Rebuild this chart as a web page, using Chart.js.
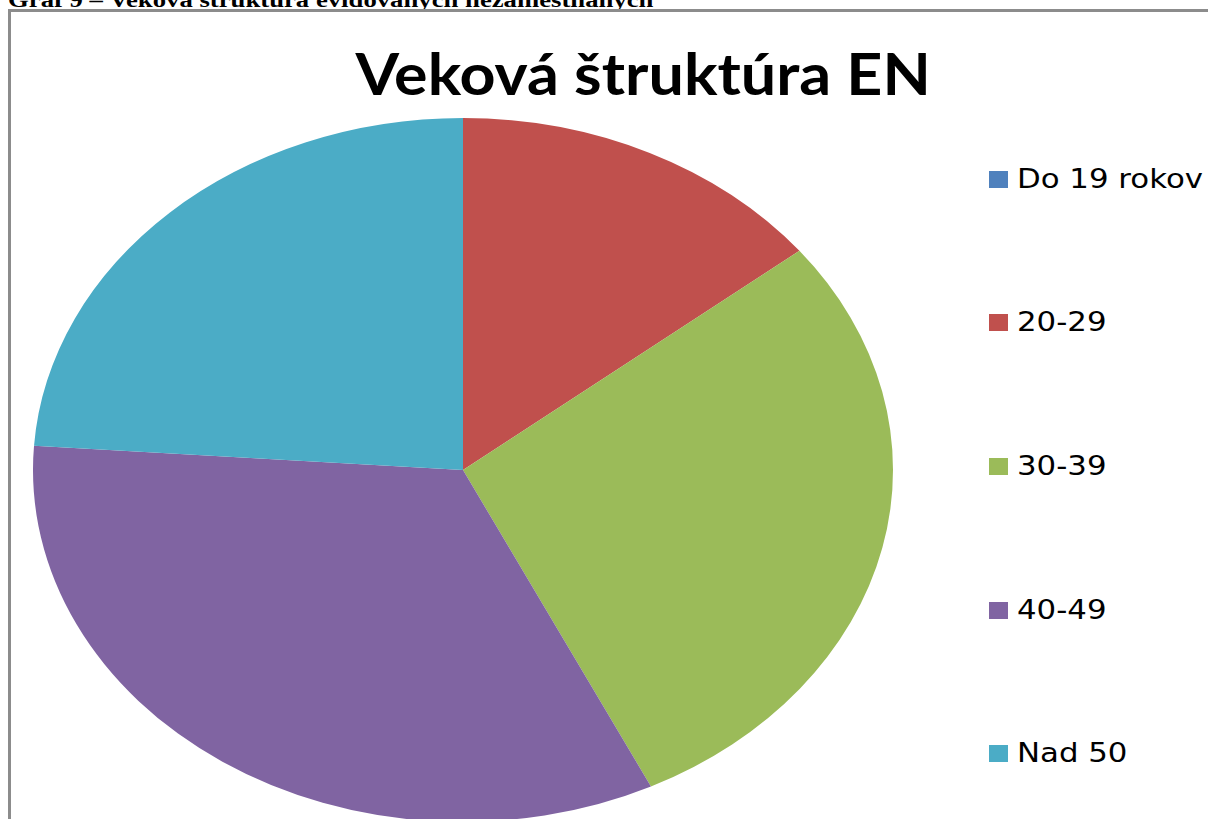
<!DOCTYPE html>
<html lang="sk">
<head>
<meta charset="utf-8">
<title>Veková štruktúra EN</title>
<script src="https://cdn.jsdelivr.net/npm/chart.js@4/dist/chart.umd.min.js"></script>
<style>
  html, body { margin: 0; padding: 0; width: 1208px; height: 819px; overflow: hidden; background: #fff; }
  #hlavicka {
    position: absolute; left: 8px; top: -10px; white-space: nowrap;
    font: bold 20px/20px "Liberation Serif", "Times New Roman", serif; color: #000;
    transform-origin: 0 0;
  }
  #ramik {
    position: absolute; left: 8px; top: 9px; width: 1300px; height: 900px;
    border: 3px solid #8c8c8c; box-sizing: border-box;
  }
  #nadpis {
    position: absolute; left: 0; width: 1286px; top: 45px; text-align: center;
  }
  #nadpis span {
    display: inline-block; white-space: nowrap;
    font: bold 57px/57px Lato, "Open Sans", sans-serif; color: #000;
    transform-origin: 50% 0;
  }
  #kolac { position: absolute; left: 33px; top: 118px; }
  .polozka { position: absolute; left: 0; top: 0; }
  .polozka .stvorec { position: absolute; width: 19px; height: 17px; }
  .polozka .text {
    position: absolute; white-space: nowrap;
    font: 26px/26px "DejaVu Sans", Verdana, sans-serif; color: #000;
    transform-origin: 0 0;
  }
</style>
</head>
<body>
<div id="hlavicka">Graf 9 – Veková štruktúra evidovaných nezamestnaných</div>
<div id="ramik"></div>
<div id="nadpis"><span>Veková štruktúra EN</span></div>
<canvas id="kolac" width="860" height="704"></canvas>
<div id="legenda"></div>

<script>
// vekove skupiny a podiel v %
const kategorie = ["Do 19 rokov", "20-29", "30-39", "40-49", "Nad 50"];
const podiel = [0, 14.3, 28.5, 33.3, 23.9];
const farby = ["#4f81bd", "#c0504d", "#9bbb59", "#8064a2", "#4bacc6"];

// roztiahnutie kolaca do elipsy (ako v povodnom obrazku)
const pomerX = 430 / 352;

function prisposobSirku(el, sirka) {
    const w = el.offsetWidth;
    el.style.transform = `scaleX(${sirka / w})`;
    return sirka / w;
}

const elipsa = {
    id: "elipsa",
    beforeDatasetsDraw(chart) {
        const a = chart.chartArea;
        const cx = (a.left + a.right) / 2;
        const cy = (a.top + a.bottom) / 2;
        const ctx = chart.ctx;
        ctx.save();
        ctx.translate(cx, cy);
        ctx.scale(pomerX, 1);
        ctx.translate(-cx, -cy);
    },
    afterDatasetsDraw(chart) {
        chart.ctx.restore();
    }
};

const kolacChart = new Chart(document.getElementById("kolac"), {
    type: "pie",
    data: {
        labels: kategorie,
        datasets: [{
            data: podiel,
            backgroundColor: farby,
            borderWidth: 0,
            hoverOffset: 0
        }]
    },
    options: {
        responsive: false,
        animation: false,
        events: [],
        layout: { padding: 0 },
        plugins: {
            legend: { display: false },
            title: { display: false },
            tooltip: { enabled: false }
        }
    },
    plugins: [elipsa]
});

// legenda
const legenda = document.getElementById("legenda");
const texty = [];
kategorie.forEach((nazov, i) => {
    const zakladna = 187.5 + i * 143.7;
    const polozka = document.createElement("div");
    polozka.className = "polozka";

    const stvorec = document.createElement("span");
    stvorec.className = "stvorec";
    stvorec.style.left = "989px";
    stvorec.style.top = (zakladna - 17) + "px";
    stvorec.style.background = farby[i];

    const text = document.createElement("span");
    text.className = "text";
    text.style.left = "1017px";
    text.style.top = (zakladna - 22) + "px";
    text.innerText = nazov;

    polozka.appendChild(stvorec);
    polozka.appendChild(text);
    legenda.appendChild(polozka);
    texty.push(text);
});

const mierka = 186 / texty[0].offsetWidth;
texty.forEach(t => t.style.transform = `scaleX(${mierka})`);

prisposobSirku(document.querySelector("#nadpis span"), 575);
prisposobSirku(document.getElementById("hlavicka"), 645);
</script>
</body>
</html>
